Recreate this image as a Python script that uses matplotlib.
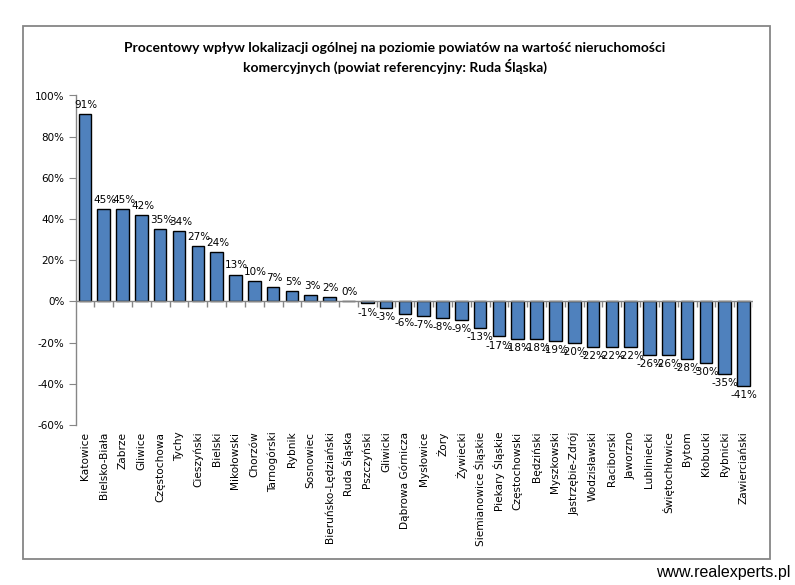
import matplotlib
matplotlib.use("Agg")
import matplotlib.pyplot as plt
from matplotlib.patches import Rectangle
import numpy as np

categories = ["Katowice", "Bielsko-Biała", "Zabrze", "Gliwice", "Częstochowa", "Tychy",
              "Cieszyński", "Bielski", "Mikołowski", "Chorzów", "Tarnogórski", "Rybnik",
              "Sosnowiec", "Bieruńsko-Lędziański", "Ruda Śląska", "Pszczyński", "Gliwicki",
              "Dąbrowa Górnicza", "Mysłowice", "Żory", "Żywiecki", "Siemianowice Śląskie",
              "Piekary Śląskie", "Częstochowski", "Będziński", "Myszkowski", "Jastrzębie-Zdrój",
              "Wodzisławski", "Raciborski", "Jaworzno", "Lubliniecki", "Świętochłowice",
              "Bytom", "Kłobucki", "Rybnicki", "Zawierciański"]
values = [91, 45, 45, 42, 35, 34, 27, 24, 13, 10, 7, 5, 3, 2, 0, -1, -3, -6, -7, -8, -9,
          -13, -17, -18, -18, -19, -20, -22, -22, -22, -26, -26, -28, -30, -35, -41]
yticks = [-60, -40, -20, 0, 20, 40, 60, 80, 100]
title = "Procentowy wpływ lokalizacji ogólnej na poziomie powiatów na wartość nieruchomości\nkomercyjnych (powiat referencyjny: Ruda Śląska)"
watermark = "www.realexperts.pl"

W, H = 795, 585
fig = plt.figure(figsize=(W / 100, H / 100), dpi=100)
fig.patch.set_facecolor("white")

# chart area border
fig.add_artist(Rectangle((23 / W, 1 - 559 / H), 747 / W, 533 / H, transform=fig.transFigure,
                         fill=False, edgecolor="#868686", linewidth=1.3))

ax = fig.add_axes([75.5 / W, 1 - 425 / H, (753 - 75.5) / W, (425 - 95.5) / H])
x = np.arange(len(categories))
ax.bar(x, values, width=0.67, color="#4F81BD", edgecolor="black", linewidth=1.0, zorder=3)
ax.set_xlim(-0.5, len(categories) - 0.5)
ax.set_ylim(-60, 100)

for s in ["top", "right", "bottom"]:
    ax.spines[s].set_visible(False)
ax.spines["left"].set_color("#868686")
ax.spines["left"].set_linewidth(1.0)
ax.set_yticks(yticks)
ax.set_yticklabels([f"{t}%" for t in yticks], fontsize=7.5, family="DejaVu Sans")
ax.tick_params(axis="y", direction="out", length=5, color="#868686", pad=3)
ax.set_xticks([])

# zero axis line with category boundary ticks
ax.axhline(0, color="#868686", linewidth=1.0, zorder=4)
bounds = np.arange(len(categories) + 1) - 0.5
ax.vlines(bounds[1:], -2.6, 0, color="#868686", linewidth=1.0, zorder=4)

for xi, v in zip(x, values):
    if v >= 0:
        ax.annotate(f"{v}%", (xi, v), xytext=(1, 3), textcoords="offset points",
                    ha="center", va="bottom", fontsize=7.5, family="DejaVu Sans")
    else:
        ax.annotate(f"{v}%", (xi, v), xytext=(0, -3), textcoords="offset points",
                    ha="center", va="top", fontsize=7.5, family="DejaVu Sans")

for xi, c in zip(x, categories):
    ax.text(xi, -0.02, c, transform=ax.get_xaxis_transform(), rotation=90,
            ha="center", va="top", fontsize=7.6, family="DejaVu Sans")

fig.text(395 / W, 1 - 58 / H, title, ha="center", va="center", fontsize=10,
         fontweight="bold", family="Lato", linespacing=1.45)
fig.text(790 / W, 1 - 573 / H, watermark, ha="right", va="center", fontsize=11.5,
         family="Liberation Sans")

fig.savefig("out.png", dpi=100)
